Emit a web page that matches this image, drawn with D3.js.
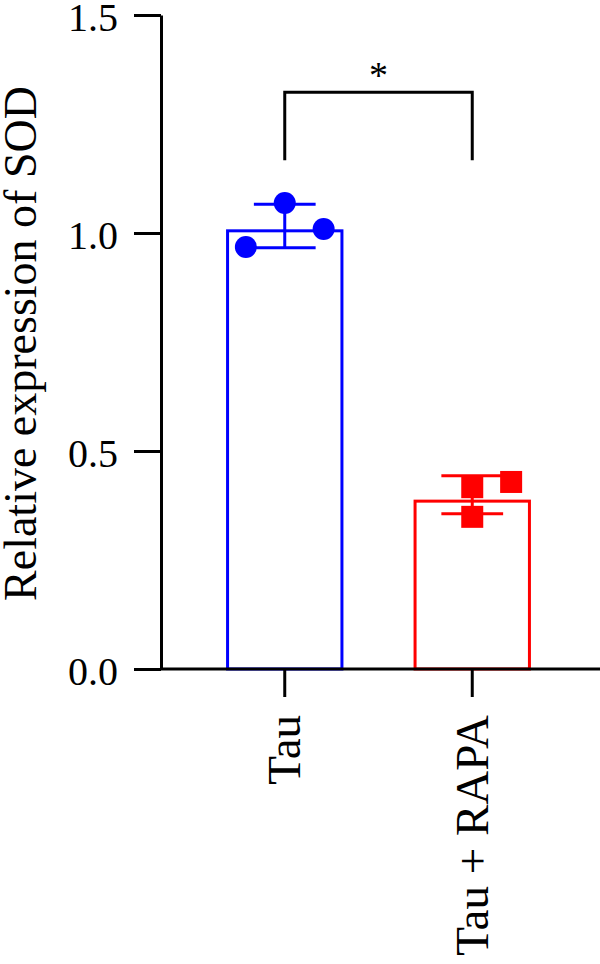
<!DOCTYPE html>
<html>
<head>
<meta charset="utf-8">
<script src="https://cdn.jsdelivr.net/npm/d3@7"></script>
<style>
  body { margin: 0; background: #fff; }
  svg { display: block; }
  text { font-family: "Liberation Serif", "Times New Roman", serif; fill: #000; }
</style>
</head>
<body>
<svg id="chart"></svg>
<script>
// Data
const groups = ["Tau", "Tau + RAPA"];
const barMeans = [1.005, 0.385];
const errHigh = [1.066, 0.443];
const errLow = [0.966, 0.356];
const tauPoints = [0.968, 1.069, 1.009];
const rapaPoints = [0.417, 0.429, 0.349];
const yTicks = [0.0, 0.5, 1.0, 1.5];
const sigLabel = "*";
const sigLevel = 1.323;
const sigDrop = 1.167;

const W = 600, H = 964;
const margin = {top: 15, right: 4, bottom: 295, left: 161};
const colors = ["#0000ff", "#ff0000"];

const svg = d3.select("#chart").attr("width", W).attr("height", H);

const y = d3.scaleLinear()
    .domain([0, 1.5])
    .range([H - margin.bottom, margin.top]);

const x = d3.scaleBand()
    .domain(groups)
    .range([margin.left, W - margin.right])
    .paddingInner(0.39)
    .paddingOuter(0.355);

const bw = x.bandwidth();
const cx = g => x(g) + bw / 2;

// Bars (open, coloured outline)
groups.forEach((g, i) => {
    svg.append("rect")
        .attr("x", x(g))
        .attr("y", y(barMeans[i]))
        .attr("width", bw)
        .attr("height", y(0) - y(barMeans[i]))
        .attr("fill", "none")
        .attr("stroke", colors[i])
        .attr("stroke-width", 3);
});

// Error bars
groups.forEach((g, i) => {
    const c = cx(g);
    const capW = bw * 0.27;
    svg.append("line")
        .attr("x1", c).attr("x2", c)
        .attr("y1", y(errHigh[i])).attr("y2", y(errLow[i]))
        .attr("stroke", colors[i]).attr("stroke-width", 3);
    [errHigh[i], errLow[i]].forEach(v => {
        svg.append("line")
            .attr("x1", c - capW).attr("x2", c + capW)
            .attr("y1", y(v)).attr("y2", y(v))
            .attr("stroke", colors[i]).attr("stroke-width", 3);
    });
});

// Individual points
const tauJitter = [-0.34, 0, 0.34];
const rapaJitter = [0, 0.34, 0];

svg.selectAll(".tau-pt")
    .data(tauPoints)
    .join("circle")
    .attr("class", "tau-pt")
    .attr("cx", (d, i) => cx(groups[0]) + tauJitter[i] * bw)
    .attr("cy", d => y(d))
    .attr("r", 11)
    .attr("fill", colors[0]);

const sq = 22;
svg.selectAll(".rapa-pt")
    .data(rapaPoints)
    .join("rect")
    .attr("class", "rapa-pt")
    .attr("x", (d, i) => cx(groups[1]) + rapaJitter[i] * bw - sq / 2)
    .attr("y", d => y(d) - sq / 2)
    .attr("width", sq)
    .attr("height", sq)
    .attr("fill", colors[1]);

// Y axis
const yAxis = svg.append("g")
    .attr("transform", `translate(${margin.left},0)`)
    .call(d3.axisLeft(y).tickValues(yTicks).tickFormat(d3.format(".1f"))
        .tickSize(27).tickSizeOuter(0).tickPadding(16));
yAxis.select(".domain").attr("stroke-width", 3);
yAxis.selectAll(".tick line").attr("stroke-width", 3);
yAxis.selectAll(".tick text")
    .style("font-size", "40px")
    .attr("dy", "0.38em");

// X axis (baseline runs to the right edge)
const xAxis = svg.append("g")
    .attr("transform", `translate(0,${y(0)})`)
    .call(d3.axisBottom(x).tickSize(28).tickSizeOuter(0).tickPadding(0));
xAxis.select(".domain")
    .attr("d", `M${margin.left},0H${W}`)
    .attr("stroke-width", 3);
xAxis.selectAll(".tick line").attr("stroke-width", 3);
xAxis.selectAll(".tick text")
    .style("font-size", "47px")
    .attr("text-anchor", "end")
    .attr("transform", "rotate(-90)")
    .attr("x", -46)
    .attr("y", 0)
    .attr("dy", "0.33em");

// Y axis label
svg.append("text")
    .attr("transform", `translate(36,${(87 + 600) / 2}) rotate(-90)`)
    .attr("text-anchor", "middle")
    .style("font-size", "46px")
    .text("Relative expression of SOD");

// Significance bracket
const b0 = cx(groups[0]), b1 = cx(groups[1]);
svg.append("path")
    .attr("d", `M${b0},${y(sigDrop)}V${y(sigLevel)}H${b1}V${y(sigDrop)}`)
    .attr("fill", "none")
    .attr("stroke", "#000")
    .attr("stroke-width", 3);

svg.append("text")
    .attr("x", (b0 + b1) / 2)
    .attr("y", y(sigLevel) - 4)
    .attr("text-anchor", "middle")
    .style("font-size", "38px")
    .text(sigLabel);
</script>
</body>
</html>
